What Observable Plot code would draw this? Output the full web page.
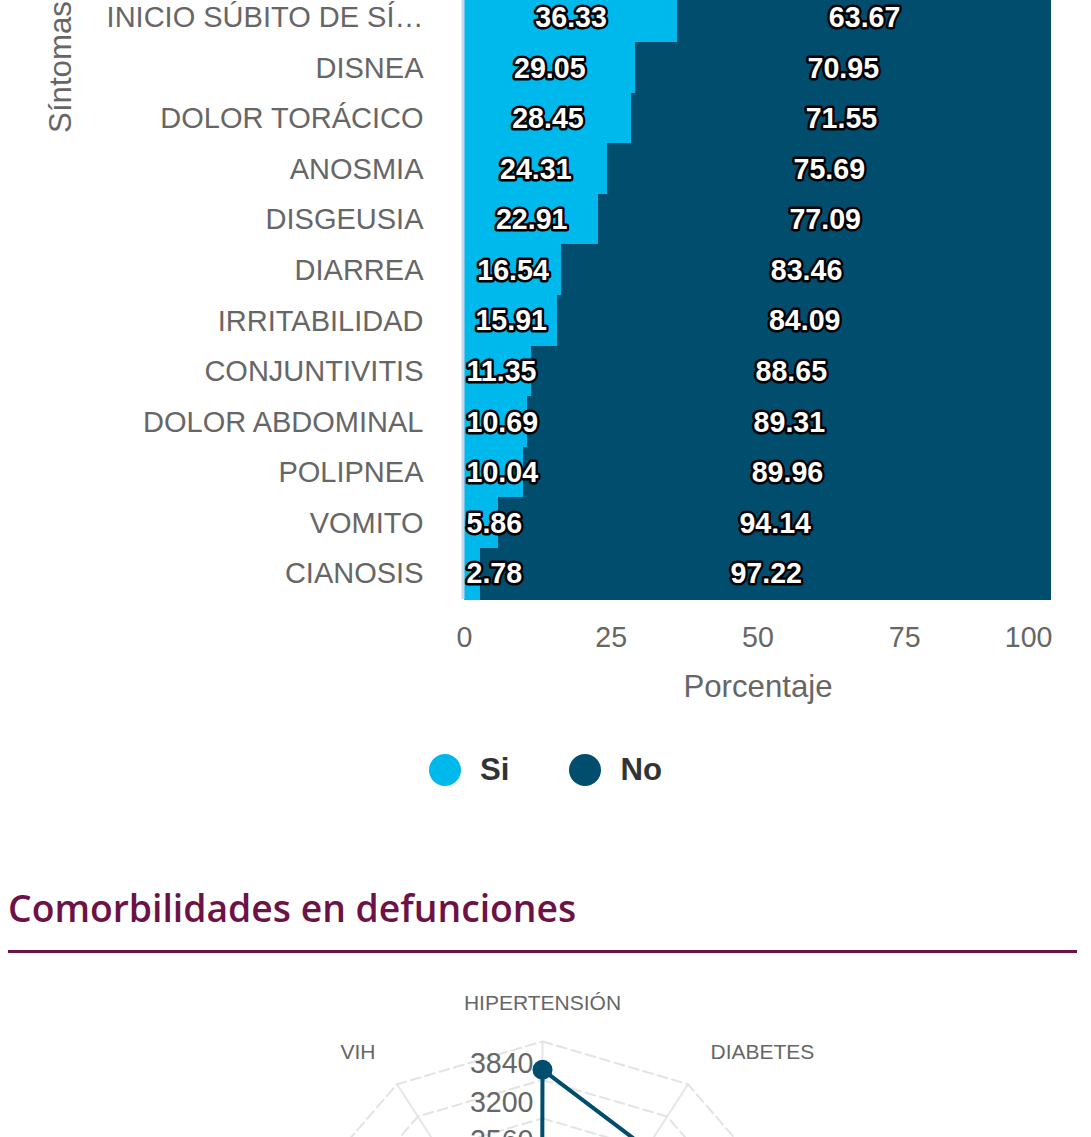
<!DOCTYPE html>
<html>
<head>
<meta charset="utf-8">
<script src="https://cdn.jsdelivr.net/npm/d3@7"></script>
<script src="https://cdn.jsdelivr.net/npm/@observablehq/plot@0.6"></script>
<style>
  html, body { margin:0; padding:0; background:#fff; width:1091px; height:1137px; overflow:hidden; position:relative;
    font-family:"Liberation Sans", Arial, Helvetica, sans-serif; }
  #bars { position:absolute; left:0; top:-8px; }
  #ylab { position:absolute; left:61px; top:67px; transform:translate(-50%,-50%) rotate(-90deg);
    font-size:31.2px; color:#666; white-space:nowrap; }
  #legend { position:absolute; left:429px; top:754px; height:32px; display:flex; align-items:center;
    font-size:31.2px; font-weight:bold; color:#333; }
  #legend .item { display:flex; align-items:center; margin-right:60px; }
  #legend .sw { width:32px; height:32px; border-radius:50%; margin-right:19px; }
  #title { position:absolute; left:8px; top:889px; font-family:"Open Sans", "Noto Sans", sans-serif; font-weight:600;
    font-size:37.3px; line-height:1; color:#6c1246; white-space:nowrap; }
  #rule { position:absolute; left:8px; top:950px; width:1069px; height:3px; background:#6c1246; }
  #radar { position:absolute; left:0; top:980px; }
</style>
</head>
<body>
<div id="bars"></div>
<div id="ylab">Síntomas</div>
<div id="legend"></div>
<div id="title">Comorbilidades en defunciones</div>
<div id="rule"></div>
<div id="radar"></div>
<script>
// ---------- Data: síntomas ----------
const sintomas = ["INICIO SÚBITO DE SÍ…","DISNEA","DOLOR TORÁCICO","ANOSMIA","DISGEUSIA","DIARREA",
  "IRRITABILIDAD","CONJUNTIVITIS","DOLOR ABDOMINAL","POLIPNEA","VOMITO","CIANOSIS"];
const valoresSi = [36.33, 29.05, 28.45, 24.31, 22.91, 16.54, 15.91, 11.35, 10.69, 10.04, 5.86, 2.78];
const valoresNo = [63.67, 70.95, 71.55, 75.69, 77.09, 83.46, 84.09, 88.65, 89.31, 89.96, 94.14, 97.22];
const respuestas = ["Si", "No"];
const colores = ["#00b9ec", "#004d6d"];
const ticksX = [0, 25, 50, 75, 100];

// ---------- Data: comorbilidades (radar; only the top three spokes are visible) ----------
const comorbilidades = ["HIPERTENSIÓN","DIABETES","OBESIDAD","INSUFICIENCIA RENAL","TABAQUISMO","CARDIOVASCULAR",
  "EPOC","OTRA CONDICIÓN","INMUNOSUPRESIÓN","ASMA","VIH"];
const defunciones = [4010, 3210, 2350, 900, 700, 650, 600, 450, 300, 250, 20];
const ticksRadar = [640, 1280, 1920, 2560, 3200, 3840, 4480];
const etiquetasRadar = [640, 1280, 1920, 2560, 3200, 3840];

// ---------- Bar chart ----------
const rows = [];
sintomas.forEach((s, i) => {
  rows.push({sintoma: s, resp: "Si", v: valoresSi[i]});
  rows.push({sintoma: s, resp: "No", v: valoresNo[i]});
});
const fs = 28.6;
const plotW = 1091 - 464 - 40;
const pxPerUnit = plotW / 100;
const labW = (v) => { const s = String(v); return ((s.length - 1) * 0.556 + 0.278) * fs; };
const siLabels = sintomas.map((s, i) => ({sintoma: s, v: valoresSi[i], txt: String(valoresSi[i]),
  fits: (valoresSi[i] / 2) * pxPerUnit >= labW(valoresSi[i]) / 2 + 3}));
const noLabels = sintomas.map((s, i) => ({sintoma: s, x: valoresSi[i] + valoresNo[i] / 2, txt: String(valoresNo[i])}));
const labStyle = {fill: "white", stroke: "black", strokeWidth: 5, strokeLinejoin: "round", fontWeight: "bold", fontSize: fs};

const bars = Plot.plot({
  width: 1091, height: 607 + 110,
  marginTop: 0, marginBottom: 110, marginLeft: 464, marginRight: 40,
  x: {domain: [0, 100], label: null},
  y: {domain: sintomas, padding: 0, round: false, label: null},
  color: {domain: respuestas, range: colores},
  style: {fontFamily: '"Liberation Sans", Arial, sans-serif', fontSize: fs + "px", color: "#666", background: "transparent", overflow: "visible"},
  marks: [
    Plot.barX(rows, Plot.stackX({x: "v", y: "sintoma", fill: "resp", shapeRendering: "crispEdges", insetTop: -0.5, insetBottom: -0.5})),
    Plot.ruleX([0], {stroke: "#ccd6eb", strokeWidth: 3, dx: -1.5}),
    Plot.axisY({tickSize: 0, tickPadding: 41, label: null, fontSize: 29}),
    Plot.axisX(ticksX.slice(0, -1), {tickSize: 0, tickPadding: 27, label: null, fontSize: fs}),
    Plot.axisX(ticksX.slice(-1), {tickSize: 0, tickPadding: 27, label: null, fontSize: fs, textAnchor: "end", dx: 1}),
    Plot.text(["Porcentaje"], {text: d => d, frameAnchor: "bottom", lineAnchor: "middle", dy: 88, fontSize: 31.2, fill: "#666"}),
    Plot.text(siLabels.filter(d => d.fits), {x: d => d.v / 2, y: "sintoma", text: "txt", ...labStyle}),
    Plot.text(siLabels.filter(d => !d.fits), {x: 0, y: "sintoma", text: "txt", textAnchor: "start", dx: 2, ...labStyle}),
    Plot.text(noLabels, {x: "x", y: "sintoma", text: "txt", ...labStyle})
  ]
});
document.getElementById("bars").appendChild(bars);

// ---------- Legend ----------
const leg = document.getElementById("legend");
respuestas.forEach((r, i) => {
  const it = document.createElement("div"); it.className = "item";
  const sw = document.createElement("div"); sw.className = "sw"; sw.style.background = colores[i];
  const tx = document.createElement("span"); tx.textContent = r;
  it.appendChild(sw); it.appendChild(tx); leg.appendChild(it);
});

// ---------- Radar ----------
const n = comorbilidades.length;
const ang = (i) => i * 2 * Math.PI / n;
const maxR = 4480;
const R = 269;   // px for maxR
const cx = 542, cy = 330;
const ringPts = [];
ticksRadar.forEach(t => comorbilidades.forEach((c, i) => ringPts.push({t, x: t * Math.sin(ang(i)), y: t * Math.cos(ang(i))})));
const spokes = comorbilidades.map((c, i) => ({c, x: maxR * Math.sin(ang(i)), y: maxR * Math.cos(ang(i))}));
const labR = 307 / R * maxR;
const catLabels = comorbilidades.map((c, i) => ({c, x: labR * Math.sin(ang(i)), y: labR * Math.cos(ang(i)), s: Math.sin(ang(i))}));
const serie = comorbilidades.map((c, i) => ({c, x: defunciones[i] * Math.sin(ang(i)), y: defunciones[i] * Math.cos(ang(i))}));
const lab = {text: "c", fontSize: 21, fill: "#666"};

const radar = Plot.plot({
  width: 1091, height: 700,
  margin: 0,
  x: {type: "linear", domain: [-maxR, maxR], range: [cx - R, cx + R], axis: null},
  y: {type: "linear", domain: [-maxR, maxR], range: [cy + R, cy - R], axis: null},
  style: {fontFamily: '"Liberation Sans", Arial, sans-serif', color: "#666", background: "transparent", overflow: "visible"},
  marks: [
    Plot.link(spokes, {x1: 0, y1: 0, x2: "x", y2: "y", stroke: "#e6e6e6", strokeWidth: 2}),
    Plot.line(ringPts, {x: "x", y: "y", z: "t", curve: "linear-closed", stroke: "#e3e3e3", strokeWidth: 2, strokeDasharray: "10,5"}),
    Plot.text(catLabels.filter(d => Math.abs(d.s) < 0.1), {x: "x", y: "y", ...lab}),
    Plot.text(catLabels.filter(d => d.s >= 0.1), {x: "x", y: "y", ...lab, textAnchor: "start", dx: 2}),
    Plot.text(catLabels.filter(d => d.s <= -0.1), {x: "x", y: "y", ...lab, textAnchor: "end", dx: -1}),
    Plot.text(etiquetasRadar, {x: 0, y: d => d, text: d => String(d), fontSize: 28.6, fill: "#666", textAnchor: "end", dx: -9, dy: -16}),
    Plot.line(serie, {x: "x", y: "y", curve: "linear-closed", stroke: "#004d6d", strokeWidth: 4}),
    Plot.dot(serie, {x: "x", y: "y", r: 10, fill: "#004d6d"})
  ]
});
document.getElementById("radar").appendChild(radar);
</script>
</body>
</html>
